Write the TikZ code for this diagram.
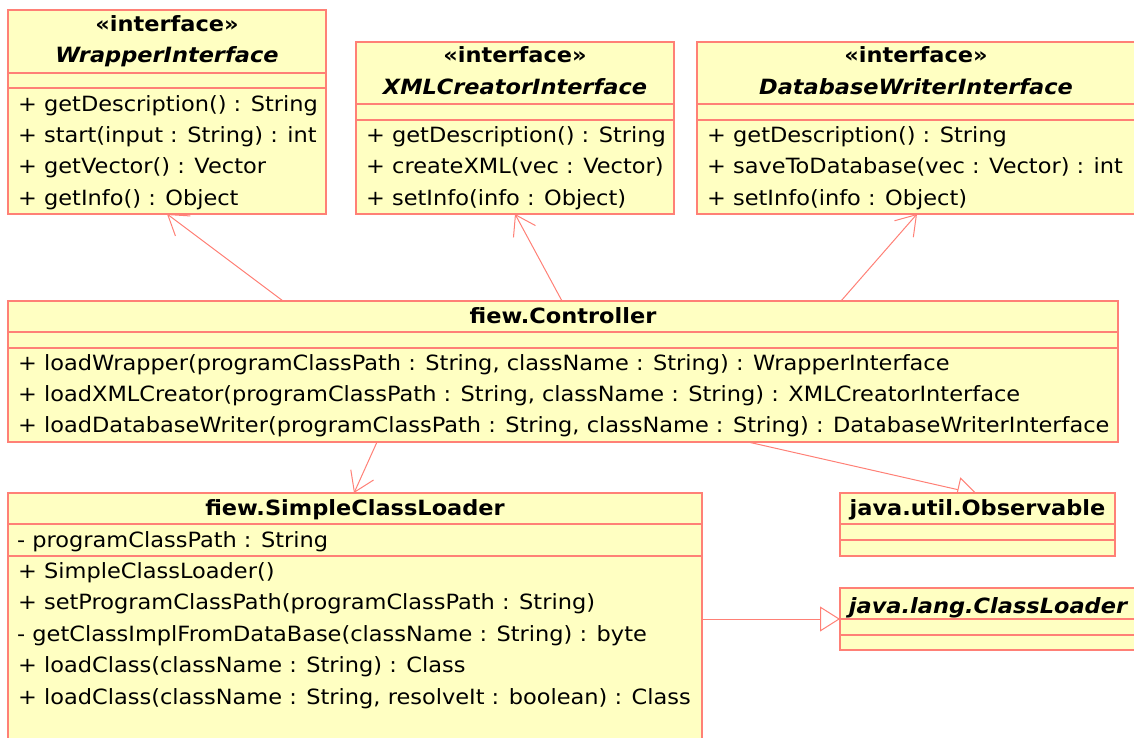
\documentclass[tikz,border=0pt]{standalone}
\usepackage{fontspec}
\setmainfont{DejaVu Sans}[FakeStretch=1.07]
\usetikzlibrary{arrows.meta}
\definecolor{umlfill}{RGB}{255,255,194}
\definecolor{umlline}{RGB}{255,128,118}
\pgfdeclarelayer{bg}
\pgfsetlayers{bg,main}
\begin{document}
\begin{tikzpicture}[x=1pt,y=-1pt,
  font=\fontsize{21}{25}\selectfont,
  box/.style={draw=umlline, fill=umlfill, line width=1.2pt, anchor=north west, inner sep=0pt, outer sep=0pt},
  sepline/.style={draw=umlline, line width=1.2pt},
  txt/.style={anchor=base west, inner sep=0pt},
  ttl/.style={anchor=base, inner sep=0pt, font=\fontsize{21}{25}\selectfont\bfseries},
  ittl/.style={anchor=base, inner sep=0pt, font=\fontsize{21}{25}\selectfont\bfseries\itshape},
  dep/.style={draw=umlline, line width=1pt, -{Straight Barb[length=19pt,width=25pt]}},
  gen/.style={draw=umlline, line width=1pt, -{Triangle[open,length=20pt,width=25pt]}}]
\clip (0,0) rectangle (1134,738);

% WrapperInterface
\node[box, minimum width=318pt, minimum height=204pt] (wrap) at (8,10) {};
\node[ttl] (wrap1) at (167,32) {«interface»};
\node[ittl] (wrap2) at (167,63) {WrapperInterface};
\draw[sepline] (8,73) -- (326,73);
\draw[sepline] (8,88) -- (326,88);
\node[txt] (wrap3) at (18,112) {+ getDescription() : String};
\node[txt] (wrap4) at (18,143) {+ start(input : String) : int};
\node[txt] (wrap5) at (18,174) {+ getVector() : Vector};
\node[txt] (wrap6) at (18,205) {+ getInfo() : Object};

% XMLCreatorInterface
\node[box, minimum width=318pt, minimum height=172pt] (xml) at (356,42) {};
\node[ttl] (xml1) at (515,63) {«interface»};
\node[ittl] (xml2) at (515,95) {XMLCreatorInterface};
\draw[sepline] (356,104) -- (674,104);
\draw[sepline] (356,120) -- (674,120);
\node[txt] (xml3) at (366,143) {+ getDescription() : String};
\node[txt] (xml4) at (366,174) {+ createXML(vec : Vector)};
\node[txt] (xml5) at (366,205) {+ setInfo(info : Object)};

% DatabaseWriterInterface
\node[box, minimum width=439pt, minimum height=172pt] (dbw) at (697,42) {};
\node[ttl] (dbw1) at (916,63) {«interface»};
\node[ittl] (dbw2) at (916,95) {DatabaseWriterInterface};
\draw[sepline] (697,104) -- (1136,104);
\draw[sepline] (697,120) -- (1136,120);
\node[txt] (dbw3) at (707,143) {+ getDescription() : String};
\node[txt] (dbw4) at (707,174) {+ saveToDatabase(vec : Vector) : int};
\node[txt] (dbw5) at (707,205) {+ setInfo(info : Object)};

% fiew.Controller
\node[box, minimum width=1110pt, minimum height=141pt] (ctrl) at (8,301) {};
\node[ttl] (ctrl1) at (563,323) {fiew.Controller};
\draw[sepline] (8,332) -- (1118,332);
\draw[sepline] (8,348) -- (1118,348);
\node[txt] (ctrl2) at (18,370) {+ loadWrapper(programClassPath : String, className : String) : WrapperInterface};
\node[txt] (ctrl3) at (18,401) {+ loadXMLCreator(programClassPath : String, className : String) : XMLCreatorInterface};
\node[txt] (ctrl4) at (18,432) {+ loadDatabaseWriter(programClassPath : String, className : String) : DatabaseWriterInterface};

% fiew.SimpleClassLoader
\node[box, minimum width=694pt, minimum height=260pt] (scl) at (8,493) {};
\node[ttl] (scl1) at (355,515) {fiew.SimpleClassLoader};
\draw[sepline] (8,524) -- (702,524);
\node[txt] (scl2) at (17,547) {- programClassPath : String};
\draw[sepline] (8,556) -- (702,556);
\node[txt] (scl3) at (18,578) {+ SimpleClassLoader()};
\node[txt] (scl4) at (18,609) {+ setProgramClassPath(programClassPath : String)};
\node[txt] (scl5) at (17,641) {- getClassImplFromDataBase(className : String) : byte};
\node[txt] (scl6) at (18,672) {+ loadClass(className : String) : Class};
\node[txt] (scl7) at (18,704) {+ loadClass(className : String, resolveIt : boolean) : Class};

% java.util.Observable
\node[box, minimum width=275pt, minimum height=63pt] (obs) at (840,493) {};
\node[ttl] (obs1) at (977.5,515) {java.util.Observable};
\draw[sepline] (840,524) -- (1115,524);
\draw[sepline] (840,540) -- (1115,540);

% java.lang.ClassLoader
\node[box, minimum width=296pt, minimum height=62pt] (cl) at (840,588) {};
\node[ittl] (cl1) at (988,613) {java.lang.ClassLoader};
\draw[sepline] (840,619) -- (1136,619);
\draw[sepline] (840,635) -- (1136,635);

% connectors
\begin{pgfonlayer}{bg}
\draw[dep] ([xshift=275pt]ctrl.north west) -- ([xshift=159pt]wrap.south west);
\draw[dep] ([xshift=554pt]ctrl.north west) -- ([xshift=159pt]xml.south west);
\draw[dep] ([xshift=833pt]ctrl.north west) -- ([xshift=220pt]dbw.south west);
\draw[dep] ([xshift=369pt]ctrl.south west) -- ([xshift=346pt]scl.north west);
\draw[gen] ([xshift=740pt]ctrl.south west) -- ([xshift=137pt,yshift=-1pt]obs.north west);
\draw[gen] (scl.east |- cl.west) -- (cl.west);
\end{pgfonlayer}
\end{tikzpicture}
\end{document}
